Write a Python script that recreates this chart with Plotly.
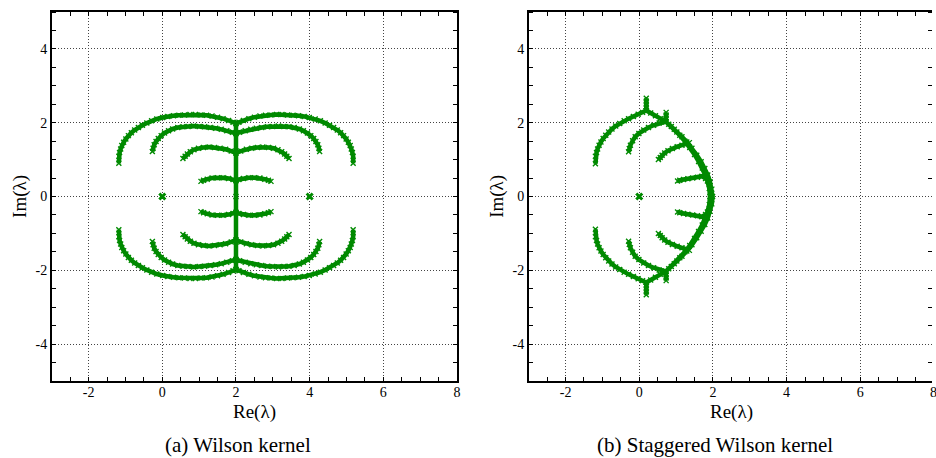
import plotly.graph_objects as go

# ---------------- data ----------------
# (a) Wilson kernel: eigenvalue branches (Re, Im)
W_OUTER_UP = [(-1.18, 0.90), (-1.18, 1.09), (-1.16, 1.19), (-1.13, 1.29), (-1.10, 1.38), (-1.05, 1.47),
              (-0.99, 1.56), (-0.92, 1.65), (-0.84, 1.73), (-0.75, 1.80), (-0.65, 1.87), (-0.54, 1.93),
              (-0.42, 1.99), (-0.29, 2.05), (-0.15, 2.10), (0.01, 2.14), (0.15, 2.17), (0.30, 2.19),
              (0.45, 2.20), (0.60, 2.21), (0.75, 2.22), (0.90, 2.22), (1.05, 2.21), (1.20, 2.20),
              (1.35, 2.18), (1.50, 2.15), (1.65, 2.11), (1.80, 2.06), (1.92, 2.01), (2.00, 1.98),
              (2.08, 2.01), (2.20, 2.06), (2.35, 2.11), (2.50, 2.15), (2.65, 2.18), (2.80, 2.20),
              (2.95, 2.21), (3.10, 2.22), (3.25, 2.22), (3.40, 2.21), (3.55, 2.20), (3.70, 2.19),
              (3.85, 2.17), (3.99, 2.14), (4.15, 2.10), (4.29, 2.05), (4.42, 1.99), (4.54, 1.93),
              (4.65, 1.87), (4.75, 1.80), (4.84, 1.73), (4.92, 1.65), (4.99, 1.56), (5.05, 1.47),
              (5.10, 1.38), (5.13, 1.29), (5.16, 1.19), (5.18, 1.09), (5.18, 0.90)]
W_OUTER_DN = [(-1.18, -0.90), (-1.18, -1.09), (-1.16, -1.19), (-1.13, -1.29), (-1.10, -1.38), (-1.05, -1.47),
              (-0.99, -1.56), (-0.92, -1.65), (-0.84, -1.73), (-0.75, -1.80), (-0.65, -1.87), (-0.54, -1.93),
              (-0.42, -1.99), (-0.29, -2.05), (-0.15, -2.10), (0.01, -2.14), (0.15, -2.17), (0.30, -2.19),
              (0.45, -2.20), (0.60, -2.21), (0.75, -2.22), (0.90, -2.22), (1.05, -2.21), (1.20, -2.20),
              (1.35, -2.18), (1.50, -2.15), (1.65, -2.11), (1.80, -2.06), (1.92, -2.01), (2.00, -1.98),
              (2.08, -2.01), (2.20, -2.06), (2.35, -2.11), (2.50, -2.15), (2.65, -2.18), (2.80, -2.20),
              (2.95, -2.21), (3.10, -2.22), (3.25, -2.22), (3.40, -2.21), (3.55, -2.20), (3.70, -2.19),
              (3.85, -2.17), (3.99, -2.14), (4.15, -2.10), (4.29, -2.05), (4.42, -1.99), (4.54, -1.93),
              (4.65, -1.87), (4.75, -1.80), (4.84, -1.73), (4.92, -1.65), (4.99, -1.56), (5.05, -1.47),
              (5.10, -1.38), (5.13, -1.29), (5.16, -1.19), (5.18, -1.09), (5.18, -0.90)]
W_SECOND_UP = [(-0.27, 1.22), (-0.25, 1.31), (-0.22, 1.40), (-0.17, 1.49), (-0.11, 1.57), (-0.03, 1.65),
               (0.06, 1.72), (0.17, 1.78), (0.28, 1.83), (0.42, 1.87), (0.56, 1.89), (0.70, 1.90),
               (0.85, 1.91), (1.00, 1.90), (1.15, 1.89), (1.30, 1.87), (1.45, 1.85), (1.60, 1.82),
               (1.75, 1.78), (1.90, 1.74), (2.00, 1.71), (2.10, 1.74), (2.25, 1.78), (2.40, 1.82),
               (2.55, 1.85), (2.70, 1.87), (2.85, 1.89), (3.00, 1.90), (3.15, 1.91), (3.30, 1.90),
               (3.44, 1.89), (3.58, 1.87), (3.72, 1.83), (3.83, 1.78), (3.94, 1.72), (4.03, 1.65),
               (4.11, 1.57), (4.17, 1.49), (4.22, 1.40), (4.25, 1.31), (4.27, 1.22)]
W_SECOND_DN = [(-0.27, -1.22), (-0.25, -1.31), (-0.22, -1.40), (-0.17, -1.49), (-0.11, -1.57), (-0.03, -1.65),
               (0.06, -1.72), (0.17, -1.78), (0.28, -1.83), (0.42, -1.87), (0.56, -1.89), (0.70, -1.90),
               (0.85, -1.91), (1.00, -1.90), (1.15, -1.89), (1.30, -1.87), (1.45, -1.85), (1.60, -1.82),
               (1.75, -1.78), (1.90, -1.74), (2.00, -1.71), (2.10, -1.74), (2.25, -1.78), (2.40, -1.82),
               (2.55, -1.85), (2.70, -1.87), (2.85, -1.89), (3.00, -1.90), (3.15, -1.91), (3.30, -1.90),
               (3.44, -1.89), (3.58, -1.87), (3.72, -1.83), (3.83, -1.78), (3.94, -1.72), (4.03, -1.65),
               (4.11, -1.57), (4.17, -1.49), (4.22, -1.40), (4.25, -1.31), (4.27, -1.22)]
W_THIRD_UP = [(0.56, 1.03), (0.62, 1.09), (0.68, 1.15), (0.76, 1.21), (0.86, 1.27), (0.98, 1.31),
              (1.12, 1.33), (1.27, 1.34), (1.42, 1.33), (1.57, 1.31), (1.72, 1.28), (1.87, 1.23),
              (2.00, 1.18), (2.13, 1.23), (2.28, 1.28), (2.43, 1.31), (2.58, 1.33), (2.73, 1.34),
              (2.88, 1.33), (3.02, 1.31), (3.14, 1.27), (3.24, 1.21), (3.32, 1.15), (3.38, 1.09), (3.44, 1.03)]
W_THIRD_DN = [(0.56, -1.03), (0.62, -1.09), (0.68, -1.15), (0.76, -1.21), (0.86, -1.27), (0.98, -1.31),
              (1.12, -1.33), (1.27, -1.34), (1.42, -1.33), (1.57, -1.31), (1.72, -1.28), (1.87, -1.23),
              (2.00, -1.18), (2.13, -1.23), (2.28, -1.28), (2.43, -1.31), (2.58, -1.33), (2.73, -1.34),
              (2.88, -1.33), (3.02, -1.31), (3.14, -1.27), (3.24, -1.21), (3.32, -1.15), (3.38, -1.09), (3.44, -1.03)]
W_FOURTH_UP = [(1.05, 0.41), (1.12, 0.44), (1.22, 0.47), (1.35, 0.50), (1.50, 0.51), (1.65, 0.51),
               (1.80, 0.49), (1.92, 0.46), (2.00, 0.43), (2.08, 0.46), (2.20, 0.49), (2.35, 0.51),
               (2.50, 0.51), (2.65, 0.50), (2.78, 0.47), (2.88, 0.44), (2.95, 0.41)]
W_FOURTH_DN = [(1.05, -0.41), (1.12, -0.44), (1.22, -0.47), (1.35, -0.50), (1.50, -0.51), (1.65, -0.51),
               (1.80, -0.49), (1.92, -0.46), (2.00, -0.43), (2.08, -0.46), (2.20, -0.49), (2.35, -0.51),
               (2.50, -0.51), (2.65, -0.50), (2.78, -0.47), (2.88, -0.44), (2.95, -0.41)]
W_SPINE = [(2.00, -1.98), (2.00, -1.71), (2.00, -1.18), (2.00, -0.43), (2.00, 0.00),
           (2.00, 0.43), (2.00, 1.18), (2.00, 1.71), (2.00, 1.98)]
W_ISOLATED = [(0.00, 0.00), (4.00, 0.00)]

# (b) Staggered Wilson kernel
S_OUTER_UP = [(-1.19, 0.89), (-1.19, 1.09), (-1.16, 1.19), (-1.13, 1.29), (-1.09, 1.39), (-1.04, 1.48),
              (-0.98, 1.57), (-0.91, 1.66), (-0.83, 1.75), (-0.74, 1.83), (-0.64, 1.91), (-0.53, 1.98),
              (-0.41, 2.05), (-0.29, 2.11), (-0.16, 2.17), (-0.03, 2.23), (0.09, 2.28), (0.19, 2.33)]
S_OUTER_DN = [(-1.19, -0.89), (-1.19, -1.09), (-1.16, -1.19), (-1.13, -1.29), (-1.09, -1.39), (-1.04, -1.48),
              (-0.98, -1.57), (-0.91, -1.66), (-0.83, -1.75), (-0.74, -1.83), (-0.64, -1.91), (-0.53, -1.98),
              (-0.41, -2.05), (-0.29, -2.11), (-0.16, -2.17), (-0.03, -2.23), (0.09, -2.28), (0.19, -2.33)]
S_SPIKE1_UP = [(0.19, 2.33), (0.19, 2.42), (0.19, 2.50), (0.19, 2.58), (0.19, 2.66)]
S_SPIKE1_DN = [(0.19, -2.33), (0.19, -2.42), (0.19, -2.50), (0.19, -2.58), (0.19, -2.66)]
S_RIDGE_UP = [(0.19, 2.33), (0.31, 2.26), (0.44, 2.19), (0.57, 2.11), (0.72, 2.03)]
S_RIDGE_DN = [(0.19, -2.33), (0.31, -2.26), (0.44, -2.19), (0.57, -2.11), (0.72, -2.03)]
S_SPIKE2_UP = [(0.72, 2.03), (0.73, 2.12), (0.73, 2.20), (0.73, 2.28)]
S_SPIKE2_DN = [(0.72, -2.03), (0.73, -2.12), (0.73, -2.20), (0.73, -2.28)]
S_SECOND_UP = [(-0.29, 1.21), (-0.27, 1.30), (-0.24, 1.39), (-0.18, 1.51), (-0.11, 1.62), (-0.01, 1.71),
               (0.12, 1.80), (0.25, 1.87), (0.39, 1.93), (0.54, 1.99), (0.72, 2.03)]
S_SECOND_DN = [(-0.29, -1.21), (-0.27, -1.30), (-0.24, -1.39), (-0.18, -1.51), (-0.11, -1.62), (-0.01, -1.71),
               (0.12, -1.80), (0.25, -1.87), (0.39, -1.93), (0.54, -1.99), (0.72, -2.03)]
S_RIGHT_ARC = [(0.72, 2.03), (0.87, 1.90), (1.02, 1.75), (1.16, 1.62), (1.29, 1.48), (1.43, 1.31),
               (1.56, 1.12), (1.68, 0.94), (1.78, 0.76), (1.86, 0.58), (1.92, 0.40), (1.97, 0.20),
               (1.99, 0.00), (1.97, -0.20), (1.92, -0.40), (1.86, -0.58), (1.78, -0.76), (1.68, -0.94),
               (1.56, -1.12), (1.43, -1.31), (1.29, -1.48), (1.16, -1.62), (1.02, -1.75), (0.87, -1.90),
               (0.72, -2.03)]
S_RIGHT_INNER = [(0.80, 1.96), (0.95, 1.82), (1.10, 1.66), (1.24, 1.50), (1.37, 1.33), (1.50, 1.14),
                 (1.61, 0.95), (1.71, 0.77), (1.79, 0.59), (1.85, 0.42), (1.90, 0.22), (1.92, 0.00),
                 (1.90, -0.22), (1.85, -0.42), (1.79, -0.59), (1.71, -0.77), (1.61, -0.95), (1.50, -1.14),
                 (1.37, -1.33), (1.24, -1.50), (1.10, -1.66), (0.95, -1.82), (0.80, -1.96)]
S_THIRD_UP = [(0.52, 1.00), (0.57, 1.06), (0.62, 1.12), (0.69, 1.18), (0.78, 1.24), (0.90, 1.30),
              (1.03, 1.35), (1.16, 1.39), (1.29, 1.43), (1.36, 1.46)]
S_THIRD_DN = [(0.52, -1.00), (0.57, -1.06), (0.62, -1.12), (0.69, -1.18), (0.78, -1.24), (0.90, -1.30),
              (1.03, -1.35), (1.16, -1.39), (1.29, -1.43), (1.36, -1.46)]
S_FOURTH_UP = [(1.04, 0.42), (1.10, 0.44), (1.20, 0.46), (1.32, 0.48), (1.45, 0.50), (1.58, 0.52),
               (1.70, 0.55), (1.80, 0.49), (1.89, 0.40)]
S_FOURTH_DN = [(1.04, -0.42), (1.10, -0.44), (1.20, -0.46), (1.32, -0.48), (1.45, -0.50), (1.58, -0.52),
               (1.70, -0.55), (1.80, -0.49), (1.89, -0.40)]
S_ISOLATED = [(0.00, 0.00)]

X_TICKS = [-2, 0, 2, 4, 6, 8]
X_TICKTEXT = ["-2", "0", "2", "4", "6", "8"]
Y_TICKS = [-4, -2, 0, 2, 4]
Y_TICKTEXT = ["-4", "-2", "0", "2", "4"]

X_TITLE = "Re(λ)"
Y_TITLE = "Im(λ)"
CAPTIONS = ["(a) Wilson kernel", "(b) Staggered Wilson kernel"]

# ---------------- styling ----------------
W, H = 936, 458
GREEN = "#008a00"
FONT = "Liberation Serif"

fig = go.Figure()


def add_branch(points, xa, ya):
    fig.add_trace(go.Scatter(
        x=[p[0] for p in points], y=[p[1] for p in points],
        mode="lines+markers", xaxis=xa, yaxis=ya,
        line=dict(color=GREEN, width=4.5),
        marker=dict(symbol="x-thin", size=5, color=GREEN, line=dict(color=GREEN, width=1.4)),
        showlegend=False, hoverinfo="skip"))


def add_points(points, xa, ya):
    fig.add_trace(go.Scatter(
        x=[p[0] for p in points], y=[p[1] for p in points],
        mode="markers", xaxis=xa, yaxis=ya,
        marker=dict(symbol="x-thin", size=6, color=GREEN, line=dict(color=GREEN, width=3)),
        showlegend=False, hoverinfo="skip"))


for br in [W_OUTER_UP, W_OUTER_DN, W_SECOND_UP, W_SECOND_DN, W_THIRD_UP, W_THIRD_DN,
           W_FOURTH_UP, W_FOURTH_DN, W_SPINE]:
    add_branch(br, "x", "y")
add_points(W_ISOLATED, "x", "y")

for br in [S_OUTER_UP, S_OUTER_DN, S_SPIKE1_UP, S_SPIKE1_DN, S_RIDGE_UP, S_RIDGE_DN,
           S_SPIKE2_UP, S_SPIKE2_DN, S_SECOND_UP, S_SECOND_DN, S_RIGHT_ARC, S_RIGHT_INNER,
           S_THIRD_UP, S_THIRD_DN, S_FOURTH_UP, S_FOURTH_DN]:
    add_branch(br, "x2", "y2")
add_points(S_ISOLATED, "x2", "y2")

# dummy trace so the right-edge tick axis of panel (b) is drawn
fig.add_trace(go.Scatter(x=[None], y=[None], xaxis="x2", yaxis="y3", showlegend=False, hoverinfo="skip"))

PX = 37.0  # pixels per unit (x)
L1, R1 = 52, 459
L2 = 531
YB, YT = 381, 12

minor = dict(dtick=0.5, tick0=0, ticks="inside", ticklen=4.5, tickwidth=1, tickcolor="black", showgrid=False)
tickfont = dict(family=FONT, size=14, color="black")


def xaxis(domain, rng):
    return dict(domain=domain, range=rng, tickmode="array", tickvals=X_TICKS, ticktext=X_TICKTEXT,
                ticks="", showgrid=True, gridcolor="#444", griddash="1px,2px", gridwidth=1,
                zeroline=False, showline=True, linecolor="black", linewidth=1.5,
                mirror="ticks", minor=minor, tickfont=tickfont, fixedrange=True,
                ticklabelstandoff=-3)


def yaxis(anchor, mirror=True):
    return dict(domain=[1 - YB / H, 1 - YT / H], range=[-5, 5], anchor=anchor, tickmode="array",
                tickvals=Y_TICKS, ticktext=Y_TICKTEXT, ticks="", showgrid=True, gridcolor="#444",
                griddash="1px,2px", gridwidth=1, zeroline=False, showline=True, linecolor="black",
                linewidth=1.5, mirror="ticks" if mirror else False, minor=minor, tickfont=tickfont,
                fixedrange=True)


x2max = -3 + (W - L2) / PX

fig.update_layout(
    width=W, height=H, autosize=False,
    margin=dict(l=0, r=0, t=0, b=0),
    paper_bgcolor="white", plot_bgcolor="white",
    font=dict(family=FONT, color="black"),
    xaxis=dict(xaxis([L1 / W, R1 / W], [-3, 8]), anchor="y"),
    yaxis=yaxis("x"),
    xaxis2=dict(xaxis([L2 / W, 1.0], [-3, x2max]), anchor="y2"),
    yaxis2=yaxis("x2", mirror=False),
    yaxis3=dict(overlaying="y2", side="right", anchor="x2", range=[-5, 5], dtick=2, tick0=0,
                showline=False, showgrid=False, zeroline=False, ticks="", showticklabels=False,
                minor=minor, fixedrange=True),
)

ann = []
for cx, ylab_x in [((L1 + R1) / 2, 20), ((L2 + L2 + 407) / 2, 499)]:
    ann.append(dict(text=X_TITLE, x=cx / W, y=1 - 412 / H, xref="paper", yref="paper",
                    xanchor="center", yanchor="middle", showarrow=False, font=dict(family=FONT, size=19)))
    ann.append(dict(text=Y_TITLE, x=ylab_x / W, y=1 - 196 / H, xref="paper", yref="paper",
                    xanchor="center", yanchor="middle", textangle=-90, showarrow=False,
                    font=dict(family=FONT, size=19)))
for cap, cap_x in zip(CAPTIONS, [239.5, 718]):
    ann.append(dict(text=cap, x=cap_x / W, y=1 - 445 / H, xref="paper", yref="paper",
                    xanchor="center", yanchor="middle", showarrow=False, font=dict(family=FONT, size=21)))
# tick label "8" of panel (b), cut by the page edge
ann.append(dict(text=X_TICKTEXT[-1], x=(L2 + 11 * PX) / W, y=1 - 392 / H, xref="paper", yref="paper",
                xanchor="center", yanchor="middle", showarrow=False, font=tickfont))
fig.update_layout(annotations=ann)

fig.write_html("out.html")
